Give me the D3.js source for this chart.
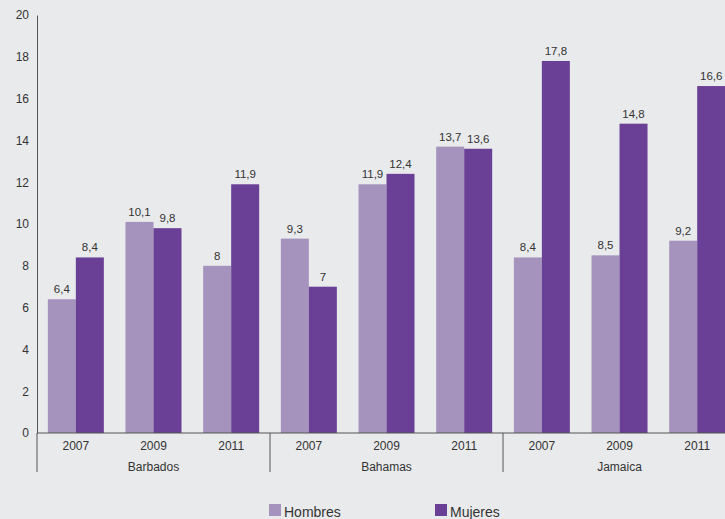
<!DOCTYPE html>
<html><head><meta charset="utf-8">
<script src="https://cdn.jsdelivr.net/npm/d3@7"></script>
<style>
html,body{margin:0;padding:0;background:#e9eaec;}
svg{display:block;font-family:Arial,"Liberation Sans",sans-serif;}
</style></head>
<body>
<svg id="c" width="725" height="519"></svg>
<script>
const countries = ["Barbados","Bahamas","Jamaica"];
const years = ["2007","2009","2011"];
const series = ["Hombres","Mujeres"];
const hombres = [6.4,10.1,8, 9.3,11.9,13.7, 8.4,8.5,9.2];
const mujeres = [8.4,9.8,11.9, 7,12.4,13.6, 17.8,14.8,16.6];
const yTicks = [0,2,4,6,8,10,12,14,16,18,20];
const colors = ["#a593bd","#6a3f96"];

const svg = d3.select("#c");
svg.append("rect").attr("width",725).attr("height",519).attr("fill","#e9eaec");

const groups = [];
countries.forEach((c,ci)=>years.forEach((y,yi)=>groups.push({country:c,year:y,idx:ci*3+yi})));

const left = 37, groupW = 77.67;
const x0 = d3.scaleBand().domain(groups.map(g=>g.idx)).range([left, left+groupW*groups.length]).padding(0);
const x1 = d3.scaleBand().domain(series).range([0, x0.bandwidth()]).paddingInner(0).paddingOuter(0.387);
const y = d3.scaleLinear().domain([0,20]).range([433,15]);

const fmt = v => String(v).replace(".",",");
const FF = "Arial,'Liberation Sans',sans-serif";

// bars
const g = svg.append("g");
groups.forEach(gr=>{
  const vals = [hombres[gr.idx], mujeres[gr.idx]];
  series.forEach((s,si)=>{
    const bx = x0(gr.idx)+x1(s);
    g.append("rect").attr("x",bx).attr("y",y(vals[si])).attr("width",x1.bandwidth())
      .attr("height",y(0)-y(vals[si])).attr("fill",colors[si]);
    g.append("text").attr("x",bx+x1.bandwidth()/2).attr("y",y(vals[si])-6)
      .attr("text-anchor","middle").attr("font-size",11.5).attr("fill","#333").text(fmt(vals[si]));
  });
});

// y axis
const yAxis = d3.axisLeft(y).tickValues(yTicks).tickSize(0).tickPadding(8).tickFormat(d=>d);
const ya = svg.append("g").attr("transform",`translate(${left},0)`).call(yAxis);
ya.select(".domain").attr("stroke","#555");
ya.selectAll("text").attr("font-size",12).attr("fill","#333").attr("font-family",FF);

// x axis baseline
svg.append("line").attr("x1",left).attr("x2",725).attr("y1",y(0)).attr("y2",y(0)).attr("stroke","#555");

// year labels
const xAxis = d3.axisBottom(x0).tickSize(0).tickPadding(8).tickFormat(i=>groups[i].year);
const xa = svg.append("g").attr("transform",`translate(0,${y(0)})`).call(xAxis);
xa.select(".domain").remove();
xa.selectAll("text").attr("font-size",12).attr("fill","#333").attr("font-family",FF);

// country labels and separators
countries.forEach((c,ci)=>{
  const x0s = x0(ci*3), x1s = x0(ci*3+2)+x0.bandwidth();
  svg.append("text").attr("x",(x0s+x1s)/2).attr("y",470.5).attr("text-anchor","middle")
    .attr("font-size",12).attr("fill","#333").text(c);
  svg.append("line").attr("x1",x0s).attr("x2",x0s).attr("y1",y(0)).attr("y2",472).attr("stroke","#555");
});

// legend
const legX = [269, 435];
series.forEach((s,si)=>{
  svg.append("rect").attr("x",legX[si]).attr("y",504).attr("width",12).attr("height",12).attr("fill",colors[si]);
  svg.append("text").attr("x",legX[si]+15).attr("y",516.5).attr("font-size",14).attr("fill","#333").text(s);
});
</script>
</body></html>
